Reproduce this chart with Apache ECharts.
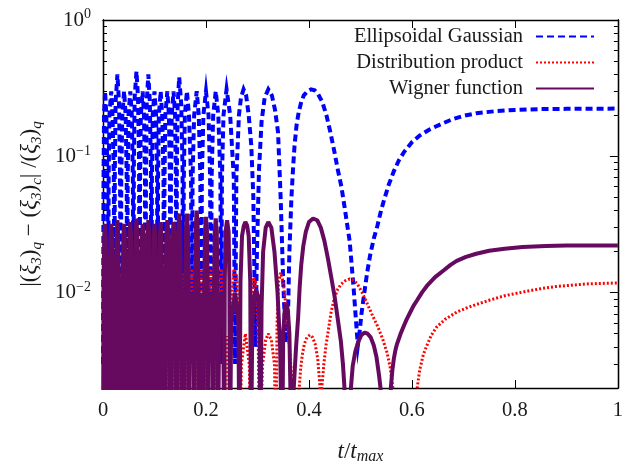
<!DOCTYPE html>
<html>
<head>
<meta charset="utf-8">
<script src="https://cdn.jsdelivr.net/npm/echarts@6/dist/echarts.min.js"></script>
<style>html,body{margin:0;padding:0;background:#fff}#c{width:626px;height:470px}</style>
</head>
<body>
<div id="c"></div>
<script>
// ---- axis ticks ----
const xTicks = [0, 0.2, 0.4, 0.6, 0.8, 1];
const yMin = 0.002, yMax = 1;
const yMajorTicks = [0.01, 0.1, 1];
const yMinorTicks = [0.003,0.004,0.005,0.006,0.007,0.008,0.009,0.02,0.03,0.04,0.05,0.06,0.07,0.08,0.09,0.2,0.3,0.4,0.5,0.6,0.7,0.8,0.9];
const yTickLabels = {'-2':'10{sup|−2}', '-1':'10{sup|−1}', '0':'10{sup|0}'};
const seriesNames = ['Ellipsoidal Gaussian', 'Distribution product', 'Wigner function'];

// ---- series values [t/tmax, relative deviation] ----
const ellipsoidalGaussian = [
[0,0.003],[0.001,0.07],[0.002,0.2],[0.004,0.3],[0.0065,0.2],[0.0085,0.07],[0.010,0.003],
[0.011,0.07],[0.0125,0.2],[0.016,0.3],[0.0185,0.2],[0.021,0.07],[0.022,0.003],
[0.023,0.08],[0.0245,0.25],[0.028,0.4],[0.031,0.25],[0.033,0.08],[0.0345,0.003],
[0.0355,0.07],[0.0375,0.2],[0.041,0.3],[0.044,0.2],[0.046,0.07],[0.047,0.003],
[0.048,0.07],[0.0495,0.2],[0.053,0.3],[0.056,0.2],[0.058,0.07],[0.059,0.003],
[0.060,0.09],[0.0615,0.27],[0.065,0.42],[0.068,0.27],[0.070,0.09],[0.071,0.003],
[0.072,0.07],[0.0735,0.2],[0.077,0.3],[0.0795,0.2],[0.0815,0.07],[0.0825,0.003],
[0.0835,0.08],[0.085,0.25],[0.088,0.4],[0.091,0.25],[0.093,0.08],[0.094,0.003],
[0.095,0.07],[0.0965,0.2],[0.100,0.3],[0.103,0.2],[0.105,0.07],[0.106,0.003],
[0.107,0.07],[0.1085,0.2],[0.112,0.3],[0.115,0.2],[0.1175,0.07],[0.1185,0.003],
[0.1195,0.07],[0.121,0.2],[0.125,0.3],[0.128,0.2],[0.130,0.07],[0.131,0.003],
[0.132,0.07],[0.1335,0.2],[0.137,0.3],[0.140,0.2],[0.1415,0.07],[0.1425,0.003],
[0.1435,0.08],[0.145,0.24],[0.148,0.38],[0.152,0.24],[0.1545,0.08],[0.1555,0.003],
[0.157,0.07],[0.159,0.2],[0.163,0.3],[0.167,0.2],[0.171,0.07],[0.1725,0.003],
[0.174,0.07],[0.177,0.2],[0.182,0.3],[0.186,0.2],[0.189,0.07],[0.191,0.003],
[0.192,0.07],[0.195,0.2],[0.200,0.3],[0.205,0.2],[0.208,0.07],[0.2095,0.003],
[0.211,0.07],[0.214,0.2],[0.219,0.3],[0.224,0.2],[0.228,0.07],[0.2295,0.003],
[0.231,0.07],[0.234,0.2],[0.240,0.31],[0.247,0.2],[0.254,0.07],[0.2565,0.003],
[0.259,0.07],[0.264,0.2],[0.268,0.27],[0.273,0.31],[0.278,0.28],[0.283,0.2],[0.288,0.12],[0.292,0.05],[0.296,0.004],
[0.299,0.02],[0.303,0.08],[0.308,0.18],[0.314,0.27],[0.321,0.31],[0.328,0.28],[0.334,0.22],[0.340,0.15],[0.345,0.05],[0.350,0.012],[0.355,0.0043],
[0.359,0.006],[0.362,0.02],[0.366,0.05],[0.369,0.08],[0.372,0.12],[0.376,0.17],[0.380,0.21],[0.385,0.25],[0.390,0.28],[0.397,0.30],[0.404,0.31],
[0.411,0.305],[0.418,0.285],[0.426,0.25],[0.434,0.2],[0.442,0.148],[0.449,0.11],[0.456,0.08],[0.463,0.06],[0.469,0.043],[0.474,0.032],[0.479,0.024],[0.483,0.016],[0.487,0.0105],[0.491,0.0065],[0.495,0.0041],
[0.498,0.005],[0.502,0.007],[0.508,0.0103],[0.513,0.014],[0.519,0.019],[0.526,0.025],[0.533,0.031],[0.540,0.04],[0.546,0.048],[0.555,0.062],[0.565,0.078],[0.575,0.094],[0.585,0.108],[0.600,0.127],[0.615,0.142],[0.635,0.158],[0.662,0.176],[0.680,0.188],[0.700,0.198],[0.725,0.207],[0.760,0.214],[0.800,0.219],[0.850,0.222],[0.900,0.223],[1,0.224]
];

const distributionProduct = [
[0,0.0006],[0.002,0.003],[0.004,0.004],[0.006,0.003],[0.008,0.0006],
[0.009,0.008],[0.010,0.012],[0.011,0.008],[0.012,0.0006],
[0.014,0.003],[0.016,0.004],[0.018,0.003],[0.020,0.0006],
[0.021,0.008],[0.022,0.012],[0.023,0.008],[0.024,0.0006],
[0.026,0.003],[0.028,0.0085],[0.030,0.003],[0.032,0.0006],
[0.033,0.008],[0.0345,0.012],[0.036,0.008],[0.037,0.0006],
[0.039,0.003],[0.041,0.004],[0.043,0.003],[0.045,0.0006],
[0.046,0.008],[0.047,0.013],[0.048,0.008],[0.049,0.0006],
[0.051,0.003],[0.053,0.005],[0.055,0.003],[0.057,0.0006],
[0.058,0.008],[0.059,0.013],[0.060,0.008],[0.061,0.0006],
[0.063,0.003],[0.065,0.0045],[0.067,0.003],[0.069,0.0006],
[0.070,0.008],[0.071,0.013],[0.072,0.008],[0.073,0.0006],
[0.075,0.003],[0.077,0.004],[0.079,0.003],[0.081,0.0006],
[0.0818,0.008],[0.0825,0.013],[0.0833,0.008],[0.084,0.0006],
[0.086,0.003],[0.088,0.0045],[0.090,0.003],[0.092,0.0006],
[0.093,0.008],[0.094,0.013],[0.095,0.008],[0.096,0.0006],
[0.098,0.003],[0.100,0.004],[0.102,0.003],[0.104,0.0006],
[0.105,0.008],[0.106,0.013],[0.107,0.008],[0.108,0.0006],
[0.110,0.003],[0.112,0.0045],[0.114,0.003],[0.116,0.0006],
[0.1175,0.008],[0.1185,0.014],[0.1195,0.008],[0.1205,0.0006],
[0.123,0.003],[0.125,0.004],[0.127,0.003],[0.1295,0.0006],
[0.1302,0.008],[0.131,0.014],[0.1318,0.008],[0.1325,0.0006],
[0.135,0.003],[0.137,0.0045],[0.139,0.003],[0.1415,0.0006],
[0.142,0.008],[0.1425,0.014],[0.143,0.008],[0.1435,0.0006],
[0.146,0.003],[0.148,0.005],[0.150,0.003],[0.1525,0.0006],
[0.154,0.009],[0.1555,0.014],[0.157,0.009],[0.1585,0.0006],
[0.161,0.003],[0.163,0.0045],[0.165,0.003],[0.1675,0.0006],
[0.169,0.009],[0.1725,0.015],[0.176,0.009],[0.1775,0.0006],
[0.180,0.003],[0.182,0.0045],[0.184,0.003],[0.1865,0.0006],
[0.188,0.009],[0.191,0.015],[0.194,0.009],[0.1955,0.0006],
[0.198,0.003],[0.200,0.0045],[0.202,0.003],[0.2045,0.0006],
[0.206,0.009],[0.2095,0.015],[0.213,0.009],[0.2145,0.0006],
[0.217,0.003],[0.219,0.0045],[0.221,0.003],[0.2235,0.0006],
[0.2255,0.009],[0.2295,0.015],[0.2335,0.009],[0.2355,0.0006],
[0.238,0.003],[0.241,0.0048],[0.244,0.003],[0.2465,0.0006],
[0.249,0.008],[0.2545,0.015],[0.260,0.012],[0.263,0.006],[0.265,0.0006],
[0.269,0.003],[0.2765,0.005],[0.284,0.003],[0.2875,0.0006],
[0.289,0.006],[0.2925,0.013],[0.2965,0.012],[0.301,0.006],[0.3045,0.0006],
[0.310,0.003],[0.316,0.0045],[0.321,0.005],[0.327,0.0045],[0.333,0.003],[0.336,0.0006],
[0.338,0.006],[0.341,0.012],[0.345,0.014],[0.350,0.012],[0.356,0.0075],[0.362,0.004],[0.368,0.002],[0.372,0.0004],
[0.376,0.0004],[0.381,0.002],[0.384,0.0028],[0.387,0.0035],[0.391,0.0042],[0.396,0.0047],[0.402,0.0049],[0.407,0.0047],[0.412,0.0042],[0.417,0.0033],[0.420,0.0024],[0.4215,0.002],[0.4225,0.0005],
[0.425,0.002],[0.429,0.003],[0.433,0.0041],[0.437,0.0051],[0.443,0.0072],[0.450,0.0093],[0.456,0.0106],[0.462,0.0115],[0.470,0.0122],[0.479,0.0126],[0.487,0.0123],[0.494,0.0116],[0.503,0.0101],[0.512,0.0085],[0.522,0.0070],[0.533,0.0057],[0.543,0.0046],[0.552,0.0036],[0.558,0.0028],[0.563,0.002],[0.568,0.0005],
[0.588,0.0002],[0.604,0.0005],[0.607,0.0015],[0.611,0.0021],[0.615,0.0027],[0.622,0.0035],[0.629,0.0041],[0.638,0.0049],[0.648,0.0056],[0.665,0.0064],[0.687,0.0072],[0.705,0.0077],[0.725,0.0082],[0.750,0.0088],[0.780,0.0095],[0.815,0.0101],[0.850,0.0107],[0.879,0.0111],[0.940,0.0116],[1,0.0118]
];

const wignerFunction = [
[0,0.0006],[0.001,0.012],[0.0025,0.026],[0.004,0.032],[0.0055,0.026],[0.007,0.01],[0.008,0.0006],
[0.009,0.005],[0.010,0.008],[0.011,0.005],[0.012,0.0006],
[0.013,0.01],[0.0145,0.026],[0.016,0.032],[0.0175,0.026],[0.019,0.01],[0.020,0.0006],
[0.021,0.005],[0.022,0.009],[0.023,0.005],[0.024,0.0006],
[0.025,0.01],[0.0265,0.027],[0.028,0.034],[0.0295,0.027],[0.031,0.01],[0.032,0.0006],
[0.033,0.005],[0.0345,0.008],[0.036,0.005],[0.037,0.0006],
[0.038,0.01],[0.0395,0.026],[0.041,0.032],[0.0425,0.026],[0.044,0.01],[0.045,0.0006],
[0.046,0.005],[0.047,0.009],[0.048,0.005],[0.049,0.0006],
[0.050,0.01],[0.0515,0.026],[0.053,0.033],[0.0545,0.026],[0.056,0.01],[0.057,0.0006],
[0.058,0.005],[0.059,0.008],[0.060,0.005],[0.061,0.0006],
[0.062,0.01],[0.0635,0.027],[0.065,0.035],[0.0665,0.027],[0.068,0.01],[0.069,0.0006],
[0.070,0.005],[0.071,0.009],[0.072,0.005],[0.073,0.0006],
[0.074,0.01],[0.0755,0.026],[0.077,0.032],[0.0785,0.026],[0.080,0.01],[0.081,0.0006],
[0.0818,0.005],[0.0825,0.008],[0.0833,0.005],[0.084,0.0006],
[0.085,0.01],[0.0865,0.027],[0.088,0.034],[0.0895,0.027],[0.091,0.01],[0.092,0.0006],
[0.093,0.005],[0.094,0.009],[0.095,0.005],[0.096,0.0006],
[0.097,0.01],[0.0985,0.026],[0.100,0.032],[0.1015,0.026],[0.103,0.01],[0.104,0.0006],
[0.105,0.005],[0.106,0.008],[0.107,0.005],[0.108,0.0006],
[0.109,0.01],[0.1105,0.026],[0.112,0.033],[0.1135,0.026],[0.115,0.01],[0.116,0.0006],
[0.1175,0.005],[0.1185,0.009],[0.1195,0.005],[0.1205,0.0006],
[0.1215,0.01],[0.123,0.027],[0.125,0.034],[0.127,0.027],[0.1285,0.01],[0.1295,0.0006],
[0.1302,0.005],[0.131,0.008],[0.1318,0.005],[0.1325,0.0006],
[0.1335,0.01],[0.135,0.026],[0.137,0.033],[0.139,0.026],[0.1405,0.01],[0.1415,0.0006],
[0.1425,0.007],[0.1435,0.0006],
[0.1445,0.01],[0.146,0.028],[0.148,0.038],[0.150,0.028],[0.1515,0.01],[0.1525,0.0006],
[0.154,0.006],[0.1555,0.009],[0.157,0.006],[0.1585,0.0006],
[0.1595,0.01],[0.161,0.028],[0.163,0.038],[0.165,0.028],[0.1665,0.01],[0.1675,0.0006],
[0.169,0.006],[0.1725,0.01],[0.176,0.006],[0.1775,0.0006],
[0.1785,0.01],[0.180,0.03],[0.182,0.04],[0.184,0.03],[0.1855,0.01],[0.1865,0.0006],
[0.188,0.006],[0.191,0.01],[0.194,0.006],[0.1955,0.0006],
[0.1965,0.01],[0.198,0.028],[0.200,0.036],[0.202,0.028],[0.2035,0.01],[0.2045,0.0006],
[0.206,0.006],[0.2095,0.01],[0.213,0.006],[0.2145,0.0006],
[0.2155,0.01],[0.217,0.028],[0.219,0.035],[0.221,0.028],[0.2225,0.01],[0.2235,0.0006],
[0.2255,0.006],[0.2295,0.01],[0.2335,0.006],[0.2355,0.0006],
[0.2365,0.012],[0.238,0.028],[0.241,0.034],[0.244,0.028],[0.2455,0.012],[0.2465,0.0006],
[0.249,0.006],[0.2565,0.01],[0.263,0.006],[0.265,0.0006],
[0.267,0.012],[0.270,0.026],[0.2735,0.031],[0.2765,0.033],[0.280,0.031],[0.283,0.026],[0.286,0.012],[0.2875,0.0006],
[0.290,0.006],[0.294,0.0095],[0.2975,0.0105],[0.301,0.0095],[0.304,0.006],[0.3055,0.0006],
[0.308,0.008],[0.311,0.02],[0.316,0.03],[0.321,0.033],[0.327,0.03],[0.333,0.02],[0.339,0.01],[0.344,0.004],[0.348,0.0006],
[0.350,0.005],[0.353,0.0075],[0.356,0.0083],[0.359,0.0075],[0.362,0.005],[0.3665,0.0006],
[0.3705,0.002],[0.375,0.004],[0.379,0.0066],[0.382,0.011],[0.385,0.016],[0.389,0.022],[0.394,0.028],[0.400,0.033],[0.408,0.035],[0.416,0.034],[0.423,0.030],[0.430,0.024],[0.437,0.0177],[0.443,0.0132],[0.450,0.0093],[0.456,0.0064],[0.462,0.0044],[0.466,0.003],[0.469,0.002],[0.4715,0.0006],
[0.476,0.0003],[0.4815,0.002],[0.485,0.0029],[0.490,0.0037],[0.496,0.0044],[0.502,0.0049],[0.508,0.0051],[0.514,0.0050],[0.520,0.0047],[0.526,0.0041],[0.531,0.0034],[0.536,0.0025],[0.539,0.002],[0.541,0.0006],
[0.553,0.0003],[0.559,0.002],[0.562,0.0027],[0.565,0.0033],[0.568,0.0038],[0.571,0.0042],[0.578,0.005],[0.585,0.0058],[0.590,0.0064],[0.596,0.0071],[0.603,0.008],[0.610,0.0088],[0.620,0.0101],[0.629,0.0112],[0.645,0.013],[0.662,0.0146],[0.675,0.016],[0.687,0.0171],[0.705,0.0183],[0.725,0.0193],[0.750,0.0203],[0.780,0.021],[0.815,0.0216],[0.860,0.022],[0.900,0.0222],[1,0.0222]
];

const FONT = 'Liberation Serif';
const TXT = '#1a1a1a';
const AXW = 1.3;
const chart = echarts.init(document.getElementById('c'), null, {renderer: 'canvas'});

function yAxisDef(pos, ticks, len, withLabels) {
  return {
    type: 'log', logBase: 10, min: yMin, max: yMax, position: pos,
    axisLine: {show: true, onZero: false, lineStyle: {color: '#000', width: AXW}},
    axisTick: {show: true, inside: true, length: len, customValues: ticks, lineStyle: {color: '#000', width: 1}},
    axisLabel: withLabels ? {
      show: true, customValues: yMajorTicks, margin: 12, color: TXT, fontFamily: FONT, fontSize: 21,
      formatter: function (v) { return yTickLabels[String(Math.round(Math.log10(v)))] || ''; },
      rich: {
        sup: {fontFamily: FONT, fontSize: 14, lineHeight: 12, verticalAlign: 'top', color: TXT}
      },
      lineHeight: 25
    } : {show: false},
    splitLine: {show: false}, minorTick: {show: false}
  };
}

const yLeft = yAxisDef('left', yMajorTicks, 8, true);
yLeft.name = '|({i|ξ}{s|3}){s|q} − ({i|ξ}{s|3}){s|c}| /({i|ξ}{s|3}){s|q}';
yLeft.nameLocation = 'middle';
yLeft.nameRotate = 90;
yLeft.nameGap = 57;
yLeft.nameTextStyle = {
  fontFamily: FONT, fontSize: 23, color: TXT, lineHeight: 28,
  rich: {
    i: {fontFamily: FONT, fontSize: 23, fontStyle: 'italic', color: TXT, lineHeight: 28},
    s: {fontFamily: FONT, fontSize: 15, fontStyle: 'italic', color: TXT, lineHeight: 17, verticalAlign: 'bottom'}
  }
};

const option = {
  animation: false,
  backgroundColor: '#fff',
  grid: {left: 103, right: 3, top: 20, bottom: 68, containLabel: false},
  legend: {
    orient: 'vertical', right: 31, top: 26, padding: 0, align: 'right',
    itemWidth: 58, itemHeight: 12, itemGap: 5,
    data: seriesNames,
    itemStyle: {opacity: 0},
    textStyle: {fontFamily: FONT, fontSize: 20.5, color: TXT, padding: [0, 8, 0, 0]}
  },
  xAxis: [
    {
      type: 'value', min: xTicks[0], max: xTicks[xTicks.length - 1], interval: 0.2, position: 'bottom',
      axisLine: {show: true, onZero: false, lineStyle: {color: '#000', width: AXW}},
      axisTick: {show: true, inside: true, length: 8, customValues: xTicks, lineStyle: {color: '#000'}},
      axisLabel: {show: true, customValues: xTicks, margin: 12, color: TXT, fontFamily: FONT, fontSize: 20.5},
      splitLine: {show: false},
      name: '{i|t}/{i|t}{s|max}', nameLocation: 'middle', nameGap: 50,
      nameTextStyle: {
        fontFamily: FONT, fontSize: 23, color: TXT, lineHeight: 27,
        rich: {
          i: {fontFamily: FONT, fontSize: 23, fontStyle: 'italic', color: TXT, lineHeight: 27},
          s: {fontFamily: FONT, fontSize: 16, fontStyle: 'italic', color: TXT, lineHeight: 17, verticalAlign: 'bottom'}
        }
      }
    },
    {
      type: 'value', min: xTicks[0], max: xTicks[xTicks.length - 1], interval: 0.2, position: 'top',
      axisLine: {show: true, onZero: false, lineStyle: {color: '#000', width: AXW}},
      axisTick: {show: true, inside: true, length: 8, customValues: xTicks, lineStyle: {color: '#000'}},
      axisLabel: {show: false}, splitLine: {show: false}
    }
  ],
  yAxis: [
    yLeft,
    yAxisDef('left', yMinorTicks, 4, false),
    yAxisDef('right', yMajorTicks, 8, false),
    yAxisDef('right', yMinorTicks, 4, false)
  ],
  series: [
    {
      name: seriesNames[0], type: 'line', data: ellipsoidalGaussian, xAxisIndex: 0, yAxisIndex: 0,
      symbol: 'none', showSymbol: false, clip: true, z: 2,
      lineStyle: {color: '#0000ff', width: 4, type: [7, 4], cap: 'butt', join: 'miter'},
      itemStyle: {color: '#0000ff'}
    },
    {
      name: seriesNames[1], type: 'line', data: distributionProduct, xAxisIndex: 0, yAxisIndex: 0,
      symbol: 'none', showSymbol: false, clip: true, z: 3,
      lineStyle: {color: '#ff0000', width: 3, type: [2, 2], cap: 'butt'},
      itemStyle: {color: '#ff0000'}
    },
    {
      name: seriesNames[2], type: 'line', data: wignerFunction, xAxisIndex: 0, yAxisIndex: 0,
      symbol: 'none', showSymbol: false, clip: true, z: 4,
      lineStyle: {color: '#660a60', width: 4},
      itemStyle: {color: '#660a60'}
    }
  ]
};
chart.setOption(option);
</script>
</body>
</html>
